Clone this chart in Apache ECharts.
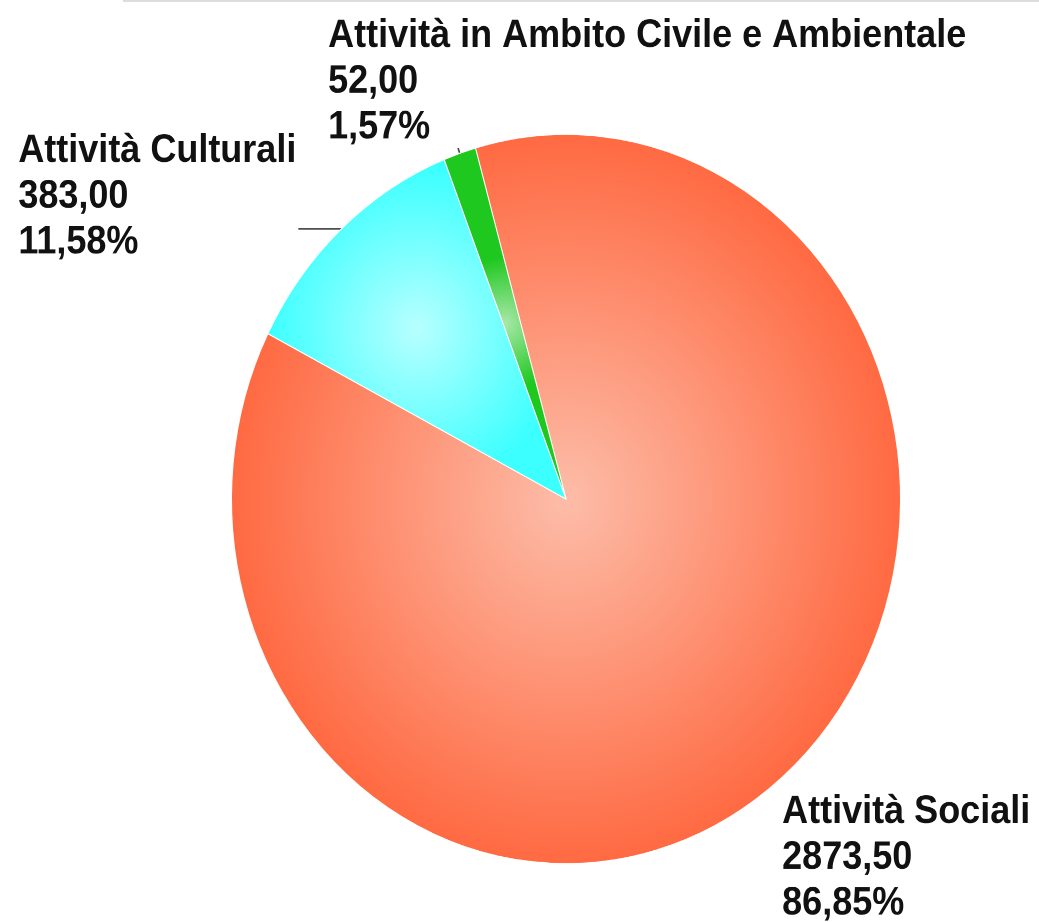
<!DOCTYPE html>
<html>
<head>
<meta charset="utf-8">
<script src="https://cdn.jsdelivr.net/npm/echarts@6/dist/echarts.min.js"></script>
<style>
html,body{margin:0;padding:0;background:#fff;overflow:hidden;width:1039px;height:922px}
#wrap{position:absolute;left:0;top:0;width:1039px;height:846px;transform:scaleY(1.09);transform-origin:0 0}
#chart{width:1039px;height:846px}
#rule{position:absolute;left:123px;top:0;width:916px;height:2px;background:#dcdcdc}
</style>
</head>
<body>
<div id="wrap"><div id="chart"></div></div>
<div id="rule"></div>
<script>
// ---- data ----
const categories = ['Attività Sociali', 'Attività Culturali', 'Attività in Ambito Civile e Ambientale'];
const values = [2873.5, 383.0, 52.0];
const innerColors = ['#FDBDA9', '#B8FFFF', '#A8E8A8'];
const outerColors = ['#FF6A42', '#3CFFFF', '#1EC81E'];

function radial(inner, outer) {
  return {
    type: 'radial', x: 0.5, y: 0.5, r: 0.5,
    colorStops: [{ offset: 0, color: inner }, { offset: 1, color: outer }]
  };
}
function fmt(v) { return v.toFixed(2).replace('.', ','); }

// label block offsets: [extra space above, extra space below] (px, before vertical stretch)
const labelGaps = [[141, 0], [0, 59], [0, 0]];
const labelLines = [
  { show: false, length: 0, length2: 0 },
  { show: true, length: 0, length2: 43 },
  { show: true, length: 5, length2: 0 }
];
const labelDist = [4, 2, 5];

const data = categories.map(function (name, i) {
  return {
    name: name,
    value: values[i],
    itemStyle: { color: radial(innerColors[i], outerColors[i]) },
    label: { distanceToLabelLine: labelDist[i] },
    labelLine: labelLines[i]
  };
});

const txt = {
  color: '#111111',
  fontFamily: 'Liberation Sans, Arial, sans-serif',
  fontWeight: 'bold',
  fontSize: 36,
  lineHeight: 42,
  align: 'left'
};

const chart = echarts.init(document.getElementById('chart'), null, { devicePixelRatio: 2 });
chart.setOption({
  animation: false,
  backgroundColor: '#fff',
  series: [{
    type: 'pie',
    center: [566, 457.8],
    radius: 334.5,
    startAngle: 105.7,
    clockwise: true,
    avoidLabelOverlap: false,
    silent: true,
    data: data,
    itemStyle: { borderColor: '#ffffff', borderWidth: 1 },
    label: {
      show: true,
      position: 'outside',
      color: '#111111',
      fontFamily: 'Liberation Sans, Arial, sans-serif',
      fontWeight: 'bold',
      fontSize: 36,
      lineHeight: 42,
      formatter: function (p) {
        const g = labelGaps[p.dataIndex];
        let s = '{t|' + p.name + '}\n{t|' + fmt(p.value) + '}\n{t|' +
          p.percent.toFixed(2).replace('.', ',') + '%}';
        if (g[0] > 0) s = '{top| }\n' + s;
        if (g[1] > 0) s = s + '\n{bot| }';
        return s;
      },
      rich: {
        t: txt,
        top: { fontSize: 1, lineHeight: labelGaps[0][0], align: 'left' },
        bot: { fontSize: 1, lineHeight: labelGaps[1][1], align: 'left' }
      }
    },
    labelLine: { lineStyle: { color: '#444444', width: 1.6 } },
    labelLayout: function (p) {
      if (p.dataIndex === 2) {
        return { align: 'left', dx: -125, dy: -61 };
      }
      return {};
    },
    emphasis: { disabled: true }
  }]
});
</script>
</body>
</html>
